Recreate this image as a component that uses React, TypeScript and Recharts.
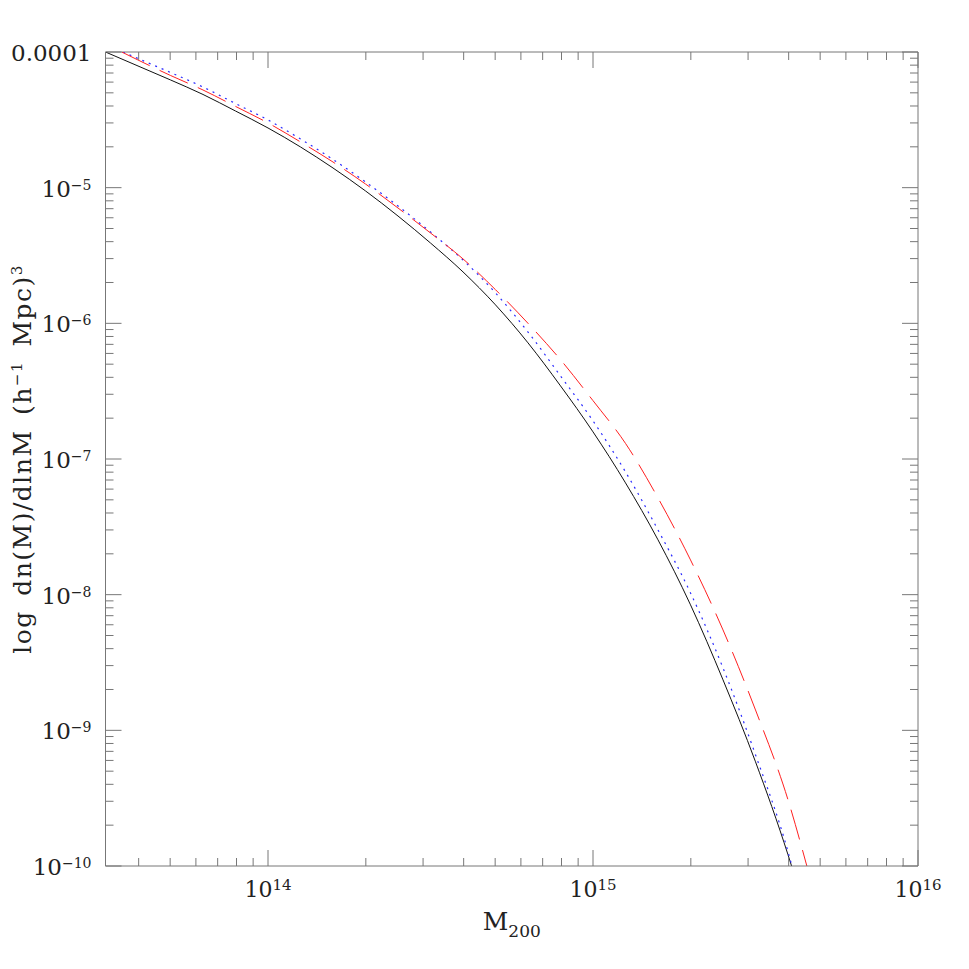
import { LineChart, Line, XAxis, YAxis, ReferenceLine, Label } from "recharts";

// mass function curves as log10 values
const solidLogM = [13.5, 13.6, 13.7, 13.8, 13.9, 14.0, 14.1, 14.2, 14.3, 14.4, 14.5, 14.6, 14.7, 14.8, 14.9, 15.0, 15.1, 15.2, 15.3, 15.4, 15.5, 15.6, 15.611];
const solidLogN = [-4.0, -4.103, -4.206, -4.313, -4.435, -4.56, -4.7, -4.855, -5.024, -5.209, -5.408, -5.621, -5.864, -6.144, -6.461, -6.8, -7.176, -7.596, -8.075, -8.628, -9.232, -9.917, -10.0];

const dottedLogM = [13.554, 13.6, 13.7, 13.8, 13.9, 14.0, 14.1, 14.2, 14.3, 14.4, 14.5, 14.6, 14.7, 14.8, 14.9, 15.0, 15.1, 15.2, 15.3, 15.4, 15.5, 15.6, 15.612];
const dottedLogN = [-4.0, -4.048, -4.151, -4.258, -4.38, -4.501, -4.641, -4.792, -4.958, -5.135, -5.327, -5.533, -5.776, -6.064, -6.388, -6.719, -7.095, -7.523, -7.987, -8.54, -9.18, -9.895, -10.0];

const dashedLogM = [13.55, 13.6, 13.7, 13.8, 13.9, 14.0, 14.1, 14.2, 14.3, 14.4, 14.5, 14.6, 14.7, 14.8, 14.9, 15.0, 15.1, 15.2, 15.3, 15.4, 15.5, 15.6, 15.658];
const dashedLogN = [-4.0, -4.059, -4.173, -4.28, -4.401, -4.523, -4.663, -4.811, -4.973, -5.15, -5.334, -5.525, -5.752, -6.0, -6.268, -6.57, -6.885, -7.287, -7.744, -8.26, -8.85, -9.512, -10.0];

// axes (decade exponents)
const xMajor = [14, 15, 16];
const yMajor = [-10, -9, -8, -7, -6, -5, -4];
const yTopLabel = "0.0001";
const minorFactors = [2, 3, 4, 5, 6, 7, 8, 9];

const X_MIN = 13.5;
const X_MAX = 16;
const Y_MIN = -10;
const Y_MAX = -4;

const toPoints = (ms: number[], ns: number[]) => ms.map((m, i) => ({ m, n: ns[i] }));

const decadeTicks = (from: number, to: number, lo: number, hi: number) => {
  const out: number[] = [];
  for (let d = from; d < to; d++) {
    out.push(d);
    minorFactors.forEach((k) => out.push(d + Math.log10(k)));
  }
  out.push(to);
  return out.filter((v) => v >= lo - 1e-9 && v <= hi + 1e-9);
};

const xTicks = decadeTicks(13, 16, X_MIN, X_MAX);
const yTicks = decadeTicks(-10, -4, Y_MIN, Y_MAX);

const W = 953;
const H = 953;
const PLOT_W = 812.5;
const PLOT_H = 814;
const AXIS = "#777";
const FONT = "DejaVu Serif";
const TEXT = "#222";

const isMajor = (v: number) => Math.abs(v - Math.round(v)) < 1e-6;

const XTick = (props: any) => {
  const { x, y, payload } = props;
  const v = payload.value;
  const major = isMajor(v);
  const len = major ? 16 : 8;
  const exp = Math.round(v);
  return (
    <g>
      <line x1={x} y1={y} x2={x} y2={y - len} stroke={AXIS} />
      <line x1={x} y1={y - PLOT_H} x2={x} y2={y - PLOT_H + len} stroke={AXIS} />
      {major && xMajor.includes(exp) && (
        <text x={x} y={y + 31} textAnchor="middle" fontFamily={FONT} fontSize={22} fill={TEXT}>
          10
          <tspan fontSize={15} dy={-7}>
            {exp}
          </tspan>
        </text>
      )}
    </g>
  );
};

const YTick = (props: any) => {
  const { x, y, payload } = props;
  const v = payload.value;
  const major = isMajor(v);
  const len = major ? 16 : 8;
  const exp = Math.round(v);
  return (
    <g>
      <line x1={x} y1={y} x2={x + len} y2={y} stroke={AXIS} />
      <line x1={x + PLOT_W} y1={y} x2={x + PLOT_W - len} y2={y} stroke={AXIS} />
      {major && yMajor.includes(exp) && (
        <text x={x - 14} y={y + 9} textAnchor="end" fontFamily={FONT} fontSize={23} fill={TEXT}>
          {exp === Y_MAX ? (
            yTopLabel
          ) : (
            <>
              10
              <tspan fontSize={14} dy={-7}>
                {"\u2212" + Math.abs(exp)}
              </tspan>
            </>
          )}
        </text>
      )}
    </g>
  );
};

const XTitle = (props: any) => {
  const vb = props.viewBox || { x: 97.5, y: 858, width: PLOT_W };
  return (
    <text x={vb.x + vb.width / 2} y={vb.y + 64} textAnchor="middle" fontFamily={FONT} fontSize={25} fill={TEXT}>
      M
      <tspan fontSize={17} dy={7}>
        200
      </tspan>
    </text>
  );
};

const YTitle = (props: any) => {
  const vb = props.viewBox || { y: 44, height: PLOT_H };
  const cx = 23;
  const cy = vb.y + vb.height / 2;
  return (
    <text
      x={cx}
      y={cy}
      transform={`rotate(-90 ${cx} ${cy})`}
      textAnchor="middle"
      fontFamily={FONT}
      fontSize={25}
      letterSpacing={1.5}
      wordSpacing={5}
      fill={TEXT}
    >
      log dn(M)/dlnM (h
      <tspan fontSize={15} dy={-9}>
        {"\u22121"}
      </tspan>
      <tspan dy={9}> Mpc)</tspan>
      <tspan fontSize={15} dy={-9}>
        3
      </tspan>
    </text>
  );
};

export default function App() {
  return (
    <LineChart width={W} height={H} margin={{ top: 44, right: 43, bottom: 35, left: 7.5 }}>
      <XAxis
        dataKey="m"
        type="number"
        domain={[X_MIN, X_MAX]}
        allowDataOverflow
        ticks={xTicks}
        interval={0}
        tick={(p: any) => <XTick {...p} />}
        tickLine={false}
        tickSize={0}
        tickMargin={0}
        axisLine={{ stroke: AXIS }}
        height={60}
      >
        <Label content={XTitle} />
      </XAxis>
      <YAxis
        type="number"
        domain={[Y_MIN, Y_MAX]}
        allowDataOverflow
        ticks={yTicks}
        interval={0}
        tick={(p: any) => <YTick {...p} />}
        tickLine={false}
        tickSize={0}
        tickMargin={0}
        axisLine={{ stroke: AXIS }}
        width={90}
      >
        <Label content={YTitle} />
      </YAxis>
      <ReferenceLine y={Y_MAX} stroke={AXIS} />
      <ReferenceLine x={X_MAX} stroke={AXIS} />
      <Line
        data={toPoints(solidLogM, solidLogN)}
        dataKey="n"
        type="monotone"
        stroke="#111"
        strokeWidth={1}
        dot={false}
        isAnimationActive={false}
      />
      <Line
        data={toPoints(dottedLogM, dottedLogN)}
        dataKey="n"
        type="monotone"
        stroke="#2a2aff"
        strokeWidth={1.2}
        strokeDasharray="2 5"
        dot={false}
        isAnimationActive={false}
      />
      <Line
        data={toPoints(dashedLogM, dashedLogN)}
        dataKey="n"
        type="monotone"
        stroke="#ff2020"
        strokeWidth={1}
        strokeDasharray="31 11"
        dot={false}
        isAnimationActive={false}
      />
    </LineChart>
  );
}
